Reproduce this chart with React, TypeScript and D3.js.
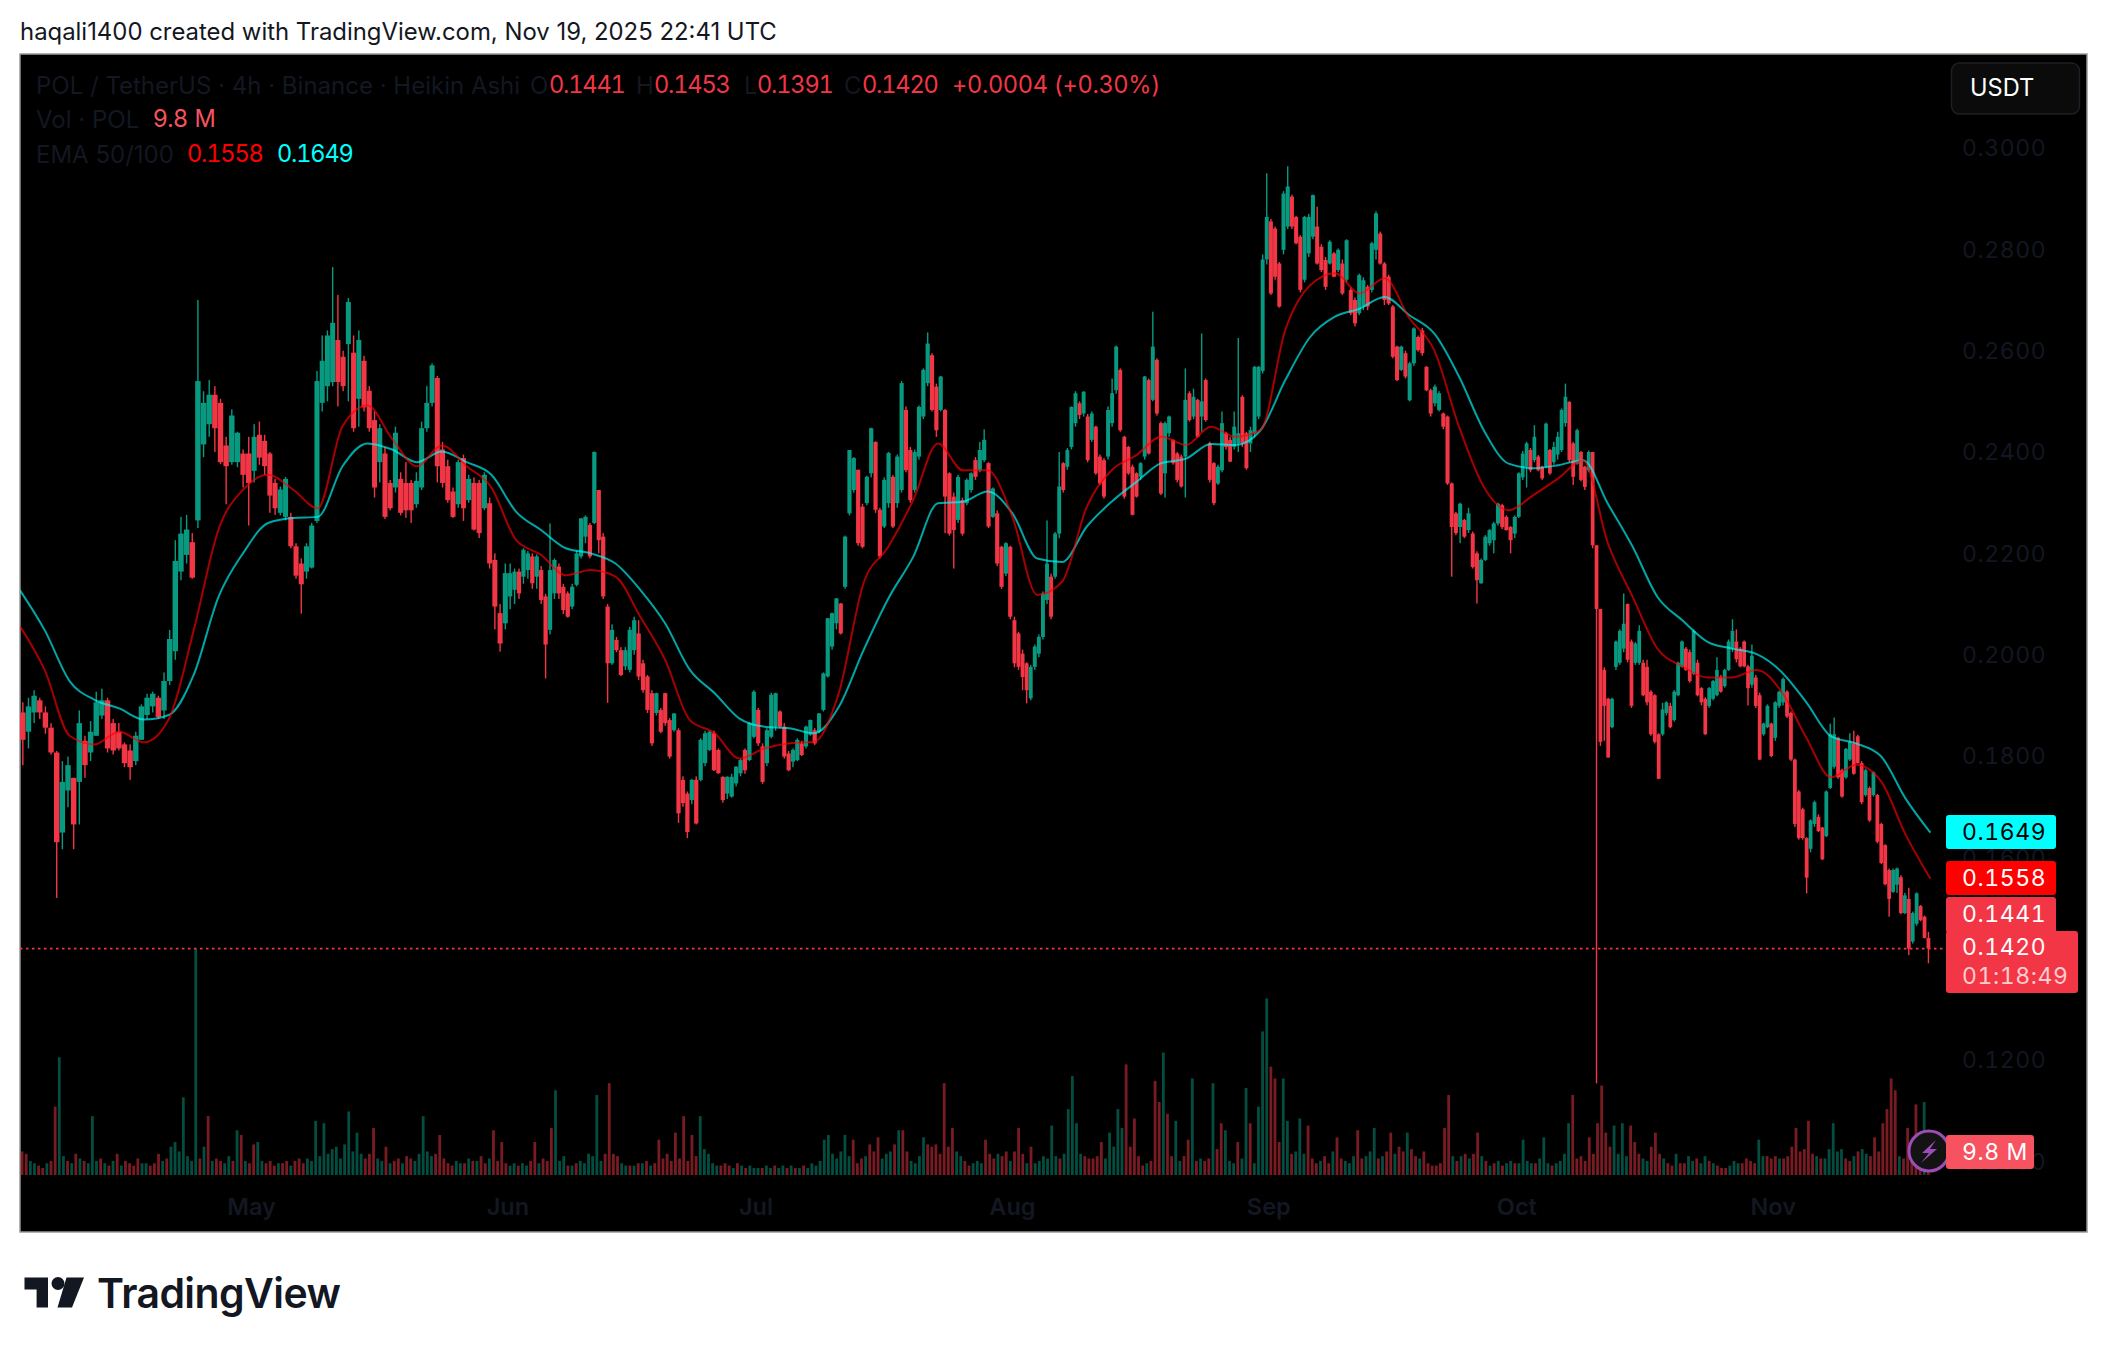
import React from "react";
import * as d3 from "d3";

// Prices are in units of 0.0001. Each row: open, high, low, close.
const aprCandles = [
[1886,1906,1782,1832],[1848,1915,1815,1898],[1886,1930,1865,1919],[1910,1915,1873,1886],[1886,1898,1844,1856],[1856,1865,1803,1807],[1807,1810,1520,1630],[1649,1790,1616,1749],[1732,1799,1699,1782],[1757,1757,1616,1665],[1749,1890,1665,1865],[1830,1840,1757,1782],[1807,1869,1790,1848],[1840,1927,1840,1906],[1880,1933,1873,1910],[1910,1915,1807,1815],[1865,1873,1803,1811],[1848,1865,1811,1815],[1823,1827,1778,1786],[1811,1823,1753,1778],[1790,1848,1782,1840],[1832,1902,1832,1898],[1881,1923,1873,1915],[1898,1927,1886,1923],[1915,1919,1873,1877],[1890,1965,1873,1948],[1948,2049,1940,2031],[2007,2226,1990,2185],[2164,2272,2147,2239],[2197,2276,2180,2247],[2222,2240,2150,2152],[2265,2700,2250,2540],[2415,2520,2390,2497],[2455,2542,2430,2513],[2513,2530,2400,2447],[2497,2505,2376,2380],[2413,2430,2297,2372],[2380,2484,2375,2472],[2380,2440,2370,2438],[2397,2405,2330,2355],[2397,2430,2255,2339],
];
const mayCandles = [
[2363,2455,2340,2430],[2434,2460,2375,2389],[2422,2434,2355,2372],[2397,2400,2280,2314],[2339,2347,2276,2289],[2280,2332,2275,2326],[2272,2351,2265,2347],[2272,2280,2210,2214],[2214,2220,2150,2156],[2180,2190,2081,2139],[2164,2220,2150,2214],[2172,2260,2170,2255],[2264,2560,2260,2540],[2497,2630,2480,2580],[2530,2640,2500,2630],[2538,2765,2530,2655],[2621,2710,2490,2538],[2588,2600,2520,2530],[2613,2704,2500,2696],[2596,2630,2440,2447],[2505,2640,2450,2621],[2580,2590,2480,2488],[2521,2530,2440,2447],[2463,2480,2310,2330],[2380,2455,2340,2447],[2397,2410,2268,2272],[2339,2345,2285,2289],[2330,2450,2320,2438],[2347,2360,2275,2280],[2339,2380,2270,2285],[2339,2345,2260,2285],[2297,2360,2290,2343],[2330,2460,2325,2447],[2447,2530,2440,2497],[2497,2575,2490,2571],[2546,2550,2340,2372],[2405,2420,2330,2339],[2372,2385,2300,2305],[2322,2330,2270,2272],[2297,2385,2290,2380],[2388,2395,2264,2289],[2305,2355,2300,2347],[2339,2350,2245,2247],[2339,2345,2230,2240],[2289,2360,2285,2355],[2299,2310,2170,2180],[2187,2200,2050,2095],[2082,2100,2006,2022],[2062,2180,2050,2161],
];
const junCandles = [
[2115,2180,2090,2161],[2128,2170,2100,2164],[2164,2170,2110,2121],[2154,2210,2140,2207],[2167,2205,2150,2200],[2194,2200,2130,2141],[2154,2198,2130,2194],[2167,2175,2100,2108],[2115,2120,1953,2020],[2049,2259,2040,2167],[2121,2190,2110,2187],[2174,2180,2110,2121],[2134,2140,2080,2088],[2121,2125,2073,2075],[2095,2140,2090,2134],[2138,2205,2135,2200],[2194,2270,2190,2269],[2233,2275,2220,2272],[2256,2260,2190,2194],[2260,2401,2258,2400],[2325,2325,2200,2226],[2233,2240,2110,2115],[2095,2100,1905,1983],[1983,2060,1980,2049],[2029,2035,2005,2009],[2009,2015,1958,1960],[1977,2015,1970,2009],[1970,2055,1965,2049],[2009,2075,2000,2068],[2042,2068,1950,1957],[1983,1990,1925,1930],[1957,1960,1885,1891],[1924,1930,1820,1825],[1885,1925,1880,1924],[1891,1895,1845,1848],[1924,1925,1860,1865],[1871,1875,1795,1799],[1851,1885,1848,1884],[1851,1855,1668,1687],[1753,1760,1700,1707],[1726,1730,1638,1650],[1713,1755,1705,1753],[1753,1760,1665,1667],[1753,1835,1750,1832],[1786,1850,1780,1845],[1812,1850,1810,1848],[1845,1850,1770,1772],[1812,1815,1765,1766],[1759,1760,1708,1713],[1726,1760,1715,1759],[1720,1765,1718,1759],[1746,1780,1740,1779],[1766,1795,1760,1792],[1812,1815,1765,1772],[1792,1867,1790,1865],[1838,1930,1835,1927],
];
const julCandles = [
[1891,1895,1820,1825],[1819,1825,1745,1749],[1786,1855,1780,1851],[1838,1925,1835,1921],[1858,1925,1850,1924],[1888,1890,1855,1858],[1858,1865,1795,1799],[1805,1810,1770,1772],[1789,1815,1778,1812],[1792,1835,1790,1832],[1825,1830,1800,1802],[1819,1860,1815,1858],[1842,1872,1840,1871],[1851,1855,1822,1825],[1848,1885,1845,1884],[1891,1965,1888,1963],[1957,2072,1955,2072],[2016,2083,2010,2082],[2062,2112,2050,2111],[2101,2102,2040,2042],[2134,2235,2130,2233],[2279,2404,2275,2404],[2325,2390,2320,2388],[2365,2365,2215,2220],[2292,2298,2210,2213],[2299,2353,2295,2351],[2358,2448,2350,2447],[2420,2421,2280,2286],[2286,2290,2190,2194],[2253,2350,2250,2345],[2299,2400,2290,2398],[2351,2355,2250,2253],[2299,2395,2290,2391],[2325,2540,2320,2536],[2483,2490,2360,2364],[2404,2410,2300,2305],[2325,2405,2320,2400],[2391,2492,2385,2489],[2470,2565,2465,2562],[2536,2636,2530,2614],[2591,2595,2480,2483],[2529,2535,2430,2443],[2483,2550,2480,2549],[2483,2485,2240,2312],[2358,2360,2235,2239],[2312,2320,2170,2246],[2266,2355,2260,2351],[2305,2310,2235,2239],[2299,2348,2295,2345],[2325,2360,2320,2358],[2384,2390,2345,2351],[2364,2420,2360,2404],[2384,2445,2380,2424],[2378,2380,2250,2253],[2272,2330,2270,2328],[2279,2285,2175,2180],[2213,2215,2130,2134],[2160,2222,2155,2220],[2213,2215,2070,2075],
];
const augCandles = [
[2068,2075,1975,1983],[2042,2045,1970,1976],[2002,2010,1930,1956],[1983,1985,1904,1930],[1914,1980,1910,1976],[1976,2020,1970,2016],[2002,2040,1995,2035],[2035,2125,2030,2121],[2108,2265,2100,2180],[2154,2160,2070,2075],[2154,2242,2150,2239],[2239,2400,2230,2332],[2378,2380,2320,2325],[2371,2408,2365,2404],[2410,2490,2405,2489],[2457,2520,2450,2516],[2496,2500,2465,2473],[2476,2520,2470,2519],[2470,2475,2380,2384],[2424,2480,2420,2476],[2450,2452,2355,2358],[2391,2395,2335,2338],[2384,2388,2308,2312],[2391,2490,2385,2483],[2457,2545,2450,2516],[2522,2610,2515,2608],[2562,2565,2440,2443],[2430,2432,2308,2312],[2410,2412,2355,2358],[2371,2375,2275,2276],[2358,2360,2310,2312],[2351,2380,2345,2378],[2391,2550,2385,2549],[2542,2545,2395,2397],[2503,2677,2500,2608],[2582,2585,2472,2476],[2457,2460,2315,2318],[2358,2460,2310,2457],[2437,2472,2430,2470],[2424,2425,2375,2378],[2397,2400,2340,2345],[2391,2395,2330,2332],[2391,2565,2310,2503],[2516,2520,2460,2463],[2470,2525,2465,2509],[2503,2505,2428,2430],[2470,2634,2440,2500],[2542,2545,2460,2463],[2417,2420,2340,2345],[2378,2380,2295,2299],[2338,2375,2335,2371],[2364,2480,2360,2457],[2437,2440,2405,2410],[2424,2430,2380,2381],[2410,2480,2405,2450],[2417,2625,2400,2437],[2509,2512,2410,2417],[2437,2440,2365,2368],[2417,2450,2400,2443],[2437,2570,2430,2568],[2470,2570,2465,2568],[2560,2790,2555,2780],[2780,2950,2770,2864],
];
const sepCandles = [
[2855,2860,2710,2713],[2841,2845,2740,2746],[2772,2775,2685,2687],[2799,2915,2790,2910],[2845,2964,2840,2924],[2904,2908,2840,2845],[2864,2866,2810,2812],[2825,2828,2715,2720],[2740,2866,2735,2864],[2792,2870,2785,2864],[2825,2908,2820,2907],[2845,2884,2770,2772],[2805,2810,2755,2759],[2779,2785,2720,2726],[2772,2818,2770,2815],[2792,2795,2745,2746],[2759,2802,2755,2799],[2772,2780,2710,2713],[2740,2820,2735,2818],[2720,2725,2670,2674],[2700,2705,2648,2654],[2674,2752,2670,2749],[2687,2745,2680,2739],[2726,2730,2680,2687],[2720,2815,2715,2812],[2799,2875,2780,2871],[2831,2835,2770,2772],[2772,2775,2690,2700],[2746,2750,2690,2693],[2687,2690,2585,2588],[2608,2610,2540,2542],[2562,2610,2560,2608],[2595,2600,2545,2549],[2502,2578,2500,2575],[2575,2646,2570,2644],[2627,2630,2598,2601],[2640,2645,2590,2595],[2568,2570,2520,2522],[2522,2525,2470,2476],[2496,2533,2490,2529],[2483,2520,2480,2516],[2476,2478,2445,2450],[2470,2472,2335,2338],[2338,2340,2154,2252],[2279,2282,2236,2240],[2252,2300,2220,2298],[2266,2268,2230,2233],[2246,2290,2240,2279],[2239,2243,2170,2173],[2200,2204,2101,2147],[2141,2190,2140,2187],[2187,2236,2185,2233],[2220,2248,2215,2246],[2226,2262,2200,2259],[2259,2300,2255,2298],[2295,2298,2248,2252],[2272,2275,2245,2246],[2252,2254,2200,2226],[2239,2275,2230,2272],
];
const octCandles = [
[2272,2360,2270,2358],[2350,2402,2345,2397],[2371,2420,2330,2417],[2404,2408,2360,2364],[2384,2453,2380,2430],[2391,2394,2362,2364],[2371,2373,2345,2348],[2371,2458,2368,2456],[2404,2406,2355,2358],[2380,2420,2375,2410],[2395,2440,2385,2430],[2404,2486,2400,2483],[2457,2535,2450,2509],[2499,2500,2380,2384],[2417,2420,2335,2351],[2377,2446,2375,2443],[2400,2402,2342,2345],[2371,2373,2325,2331],[2364,2403,2360,2400],[2400,2400,2210,2216],[2216,2216,1154,2090],[2090,2090,1820,1828],[1970,1975,1830,1899],[1913,1915,1797,1797],[1857,1915,1855,1913],[1976,2028,1970,2026],[1984,2050,1980,2047],[2012,2121,2005,2061],[2100,2101,1985,1990],[2026,2030,1895,1899],[1984,2025,1980,2022],[1984,2058,1980,2047],[1984,1990,1918,1920],[1976,1990,1900,1906],[1927,1930,1840,1843],[1920,1922,1825,1828],[1843,1845,1755,1755],[1843,1905,1840,1892],[1885,1908,1880,1906],[1899,1905,1855,1857],[1871,1930,1868,1927],[1920,1986,1918,1984],[1976,2028,1975,2026],[2012,2015,1968,1970],[2005,2010,1945,1948],[1962,2050,1960,2047],[1984,1990,1918,1920],[1934,1936,1900,1906],[1913,1916,1842,1843],[1899,1936,1895,1934],[1913,1950,1910,1948],[1920,1995,1918,1970],[1956,1960,1925,1927],[1938,1972,1935,1970],[1970,2030,1968,2026],[2012,2070,2005,2047],[2026,2050,1985,1991],[2012,2015,1975,1977],[2026,2028,1975,1977],[1977,1980,1900,1934],[1941,2020,1935,1998],[1955,1960,1895,1899],[1920,1925,1792,1793],[1843,1866,1840,1864],[1857,1902,1855,1899],[1864,1866,1798,1800],
];
const novCandles = [
[1836,1908,1830,1906],[1899,1929,1895,1927],[1906,1955,1900,1952],[1927,1930,1875,1878],[1885,1888,1790,1793],[1793,1795,1660,1666],[1730,1733,1635,1638],[1695,1698,1635,1638],[1638,1640,1529,1560],[1617,1675,1610,1673],[1666,1712,1660,1709],[1680,1685,1650,1652],[1659,1660,1595,1596],[1642,1732,1640,1730],[1737,1864,1735,1843],[1779,1876,1775,1843],[1836,1838,1755,1758],[1772,1775,1718,1720],[1758,1816,1755,1814],[1793,1845,1790,1828],[1825,1850,1763,1765],[1839,1842,1785,1786],[1786,1790,1705,1709],[1723,1775,1720,1772],[1737,1740,1670,1673],[1723,1770,1720,1768],[1723,1725,1628,1631],[1666,1668,1587,1589],[1624,1626,1545,1547],[1575,1578,1483,1518],[1532,1578,1530,1575],[1546,1580,1530,1578],[1561,1565,1488,1490],[1490,1530,1488,1525],[1518,1540,1407,1420],[1434,1493,1430,1490],[1469,1531,1465,1529],[1504,1506,1474,1476],[1483,1485,1440,1441],[1441,1453,1391,1420],
];

// EMA values sampled every three days from 3 Apr, same price unit.
const ema100 = [2127,2048,1948,1911,1894,1872,1881,1960,2114,2201,2260,2270,2272,2372,2417,2405,2380,2401,2380,2355,2282,2246,2210,2200,2180,2128,2062,1970,1924,1874,1858,1855,1845,1897,2009,2111,2193,2299,2302,2322,2279,2190,2183,2253,2302,2341,2378,2387,2416,2414,2443,2542,2627,2667,2683,2706,2670,2634,2549,2443,2377,2368,2374,2384,2298,2213,2114,2068,2026,2012,2001,1966,1906,1839,1825,1800,1716,1649];
const ema50 = [2056,1969,1840,1823,1848,1827,1873,2048,2247,2326,2355,2326,2289,2451,2492,2426,2372,2413,2372,2330,2226,2197,2157,2167,2154,2075,1990,1871,1845,1795,1815,1825,1828,1924,2141,2213,2305,2417,2364,2364,2272,2118,2144,2292,2364,2394,2430,2414,2450,2430,2443,2641,2729,2753,2713,2743,2664,2601,2450,2331,2285,2315,2348,2384,2220,2114,2012,1977,1955,1955,1970,1927,1836,1758,1783,1751,1645,1558];

// Volume in millions, two bars a day; negative means a falling candle.
const aprVolume = [-10,-9,6,5,-4,-3,5,-6,-29,50,8,-6,5,-9,7,-6,5,25,6,-7,5,-4,6,-9,4,-6,-5,-4,-7,5,5,-4,-5,-9,6,-7,12,14,10,33,8,6,96,-7,12,-25,6,-7,-6,5,8,-6,19,-17,6,-5];
const mayVolume = [-13,14,6,-5,-6,-4,5,-5,-6,4,-6,-7,-5,7,6,23,8,22,9,11,12,7,13,27,10,18,9,-7,-9,-20,7,6,-12,5,-6,-7,5,-8,-7,6,9,25,10,8,-9,-17,-7,-5,-4,6,5,-5,7,-6,6,-8,-5,7,-19,-6,-14,-5];
const junVolume = [4,5,-4,5,4,-6,-14,5,-7,-6,-20,36,6,8,-4,4,-5,6,5,9,8,34,6,-9,-39,-9,-8,5,4,-4,4,-5,5,-6,4,-5,-15,-7,-9,-6,-18,-7,-25,-6,-17,-8,25,11,9,5,4,-4,-5,-4,3,-5,4,-3,4,3];
const julVolume = [3,-3,4,3,-4,3,4,-3,4,-3,3,-4,3,5,4,6,15,17,9,7,10,17,8,-15,-5,-7,8,-13,-10,-16,7,9,10,-13,19,-19,-10,6,5,8,16,-13,-12,-13,-9,-39,-12,-20,10,8,-6,-4,5,6,5,-15,-9,-7,9,-8,-10,6];
const augVolume = [-10,-20,-9,5,-12,5,6,8,7,21,8,-7,9,28,42,22,9,-8,-7,-7,-8,-14,7,18,12,28,20,-47,-12,-24,-8,-4,5,-6,-40,-31,52,-26,-8,23,6,-8,-15,41,-6,7,-6,-7,39,-11,-22,19,6,5,-14,7,37,-22,5,29,61,75];
const sepVolume = [-46,-41,-14,41,23,-9,10,24,9,-21,-7,-5,6,-8,-5,10,-16,-7,6,5,8,-19,-7,8,10,20,-7,8,-10,-18,9,-12,-10,18,-11,-8,7,-10,-5,-4,-4,-5,-20,-34,8,-6,8,-9,7,-9,-18,8,-6,4,-5,6,-4,5,6,-5];
const octVolume = [5,15,6,5,-5,7,16,5,-4,5,6,9,22,-34,-7,-8,-6,-16,-9,-22,-38,-18,-12,21,9,22,8,-21,-14,-9,7,6,-12,-18,-9,7,-5,-4,9,-5,-5,8,6,-7,5,8,-6,5,-4,-3,-3,4,6,5,-5,-7,-6,-5,15,8,-8,-7];
const novVolume = [-8,7,-7,-8,-12,-20,-10,-11,-23,-9,8,-7,7,11,22,10,11,-7,-6,8,-10,11,9,-8,-16,-10,-22,-28,-41,-36,8,-7,-20,-12,-30,-16,31,-10];

const monthStarts = ["2025-04-03","2025-05-01","2025-06-01","2025-07-01","2025-08-01","2025-09-01","2025-10-01","2025-11-01","2025-11-20"].map((d) => new Date(d + "T00:00:00Z"));
const monthCandles = [aprCandles, mayCandles, junCandles, julCandles, augCandles, sepCandles, octCandles, novCandles];
const monthVolumes = [aprVolume, mayVolume, junVolume, julVolume, augVolume, sepVolume, octVolume, novVolume];
const monthLabels = ["May", "Jun", "Jul", "Aug", "Sep", "Oct", "Nov"];
const priceTicks = [0.3, 0.28, 0.26, 0.24, 0.22, 0.2, 0.18, 0.16, 0.14, 0.12, 0.1];

const legendNames = [
  { t: "POL / TetherUS · 4h · Binance · Heikin Ashi", x: 36 },
  { t: "O", x: 530 }, { t: "H", x: 636 }, { t: "L", x: 744 }, { t: "C", x: 844 },
];
const legendValues = [
  { t: "0.1441", x: 549 }, { t: "0.1453", x: 654 }, { t: "0.1391", x: 757 }, { t: "0.1420", x: 862 },
];

const GREEN = "#089981";
const RED = "#F23645";
const FONT = "Inter, sans-serif";
const UNIT = 1e-4;
const L = 20, R = 2087, T = 54, B = 1232;
const NUM: React.CSSProperties = { fontVariantNumeric: "tabular-nums" };

export default function App() {
  const x = d3.scaleUtc().domain([monthStarts[0], monthStarts[8]]).range([20, 1930.4]);
  const y = d3.scaleLinear().domain([0.3, 0.1]).range([148, 1161.4]);
  const yVol = d3.scaleLinear().domain([0, 96]).range([1175, 949]);

  const place = (m: number, j: number, n: number) => {
    const a = x(monthStarts[m]);
    const b = x(monthStarts[m + 1]);
    return a + ((j + 0.5) / n) * (b - a);
  };

  const emaLine = d3.line<number>()
    .x((_, i) => x(new Date(monthStarts[0].getTime() + i * 3 * 864e5)))
    .y((v) => y(v * UNIT))
    .curve(d3.curveMonotoneX);

  return (
    <svg width={2108} height={1352} style={{ position: "absolute", left: 0, top: 0, background: "#fff" }} fontFamily={FONT}>
      <defs>
        <clipPath id="plot"><rect x={L} y={T} width={R - L} height={B - T} /></clipPath>
      </defs>
      <text x={20} y={40} fontSize={23.9} fill="#131722">haqali1400 created with TradingView.com, Nov 19, 2025 22:41 UTC</text>
      <rect x={L} y={T} width={R - L} height={B - T} fill="#000" stroke="#999" strokeWidth={1.5} />

      <g clipPath="url(#plot)">
        {priceTicks.map((p) => (
          <text key={p} x={1962} y={y(p)} dy="0.36em" fontSize={23} fill="#131722" letterSpacing={0.6} style={NUM}>{p.toFixed(4)}</text>
        ))}
        {monthLabels.map((m, i) => (
          <text key={m} x={x(monthStarts[i + 1])} y={1207} dy="0.36em" textAnchor="middle" fontSize={23.5} fontWeight={600} fill="#131722">{m}</text>
        ))}

        {monthVolumes.map((arr, m) =>
          arr.map((v, j) => {
            const h = Math.abs(v);
            return (
              <rect key={`v${m}-${j}`} x={place(m, j, arr.length) - 1.4} width={2.8} y={yVol(h)} height={yVol(0) - yVol(h)}
                fill={v >= 0 ? GREEN : RED} fillOpacity={0.5} />
            );
          })
        )}

        {monthCandles.map((arr, m) => {
          const span = x(monthStarts[m + 1]) - x(monthStarts[m]);
          const bw = Math.max(2.8, (span / arr.length) * 0.96);
          return arr.map(([o, h, l, c], j) => {
            const px = place(m, j, arr.length);
            const col = c >= o ? GREEN : RED;
            const top = y(Math.max(o, c) * UNIT);
            const bot = y(Math.min(o, c) * UNIT);
            return (
              <g key={`c${m}-${j}`} fill={col}>
                <rect x={px - 0.7} width={1.4} y={y(h * UNIT)} height={y(l * UNIT) - y(h * UNIT)} />
                <rect x={px - bw / 2} width={bw} y={top} height={Math.max(1, bot - top)} />
              </g>
            );
          });
        })}

        <path d={emaLine(ema100) ?? ""} fill="none" stroke="#00FFFF" strokeOpacity={0.65} strokeWidth={2} />
        <path d={emaLine(ema50) ?? ""} fill="none" stroke="#FF0000" strokeOpacity={0.65} strokeWidth={2} />

        <line x1={L} x2={1946} y1={y(0.142)} y2={y(0.142)} stroke={RED} strokeWidth={1.6} strokeDasharray="2.5 3.5" />

        {legendNames.map((d) => (
          <text key={d.x} x={d.x} y={85} dy="0.36em" fontSize={24} fill="#131722">{d.t}</text>
        ))}
        {legendValues.map((d) => (
          <text key={d.x} x={d.x} y={85} dy="0.36em" fontSize={23.6} fill={RED} letterSpacing={-1.2} style={NUM}>{d.t}</text>
        ))}
        <text x={952} y={85} dy="0.36em" fontSize={23.6} fill={RED} letterSpacing={-0.35} style={NUM}>+0.0004 (+0.30%)</text>
        <text x={36} y={119} dy="0.36em" fontSize={24} fill="#131722">Vol · POL</text>
        <text x={153} y={119} dy="0.36em" fontSize={23.6} fill="#F7525F">9.8 M</text>
        <text x={36} y={154} dy="0.36em" fontSize={24} fill="#131722">EMA 50/100</text>
        <text x={187} y={154} dy="0.36em" fontSize={23.6} fill="#FF0000" letterSpacing={-1.2} style={NUM}>0.1558</text>
        <text x={277} y={154} dy="0.36em" fontSize={23.6} fill="#00FFFF" letterSpacing={-1.2} style={NUM}>0.1649</text>

        <rect x={1951.5} y={63} width={128} height={51} rx={8} fill="#0b0b0b" stroke="#1c1f26" strokeWidth={1.5} />
        <text x={1970} y={88} dy="0.36em" fontSize={23.6} fill="#fff">USDT</text>

        <circle cx={1929} cy={1151} r={20} fill="#131313" stroke="#9C4DB8" strokeWidth={3} />
        <path d="M1936 1140 L1922 1153 L1929 1153 L1921 1163 L1937 1149 L1930 1149 Z" fill="#9C4DB8" />

        <rect x={1946} y={815} width={110} height={34} rx={3} fill="#00FFFF" />
        <text x={1962} y={832} dy="0.36em" fontSize={23} fill="#000" letterSpacing={0.6} style={NUM}>0.1649</text>
        <rect x={1946} y={861} width={110} height={34} rx={3} fill="#FF0000" />
        <text x={1962} y={878} dy="0.36em" fontSize={23} fill="#fff" letterSpacing={0.6} style={NUM}>0.1558</text>
        <rect x={1946} y={897} width={110} height={36} rx={3} fill={RED} />
        <text x={1962} y={914} dy="0.36em" fontSize={23} fill="#fff" letterSpacing={0.6} style={NUM}>0.1441</text>
        <rect x={1946} y={931} width={132} height={62} rx={3} fill={RED} />
        <text x={1962} y={947} dy="0.36em" fontSize={23} fill="#fff" letterSpacing={0.6} style={NUM}>0.1420</text>
        <text x={1962} y={976} dy="0.36em" fontSize={23} fill="#fff" fillOpacity={0.75} letterSpacing={0.6} style={NUM}>01:18:49</text>
        <rect x={1946} y={1135} width={88} height={34} rx={3} fill="#F7525F" />
        <text x={1962} y={1152} dy="0.36em" fontSize={23} fill="#fff" letterSpacing={0.6} style={NUM}>9.8 M</text>
      </g>

      <g fill="#131722" transform="translate(0,1.5)">
        <path d="M24.5 1276 H48 V1306 H36.6 V1288 H24.5 Z" />
        <circle cx={58} cy={1282} r={6.5} />
        <path d="M66.5 1276 H84 L72 1306 H57.5 Z" />
        <text x={97} y={1306} fontSize={41} fontWeight={600} letterSpacing={-0.6}>TradingView</text>
      </g>
    </svg>
  );
}
